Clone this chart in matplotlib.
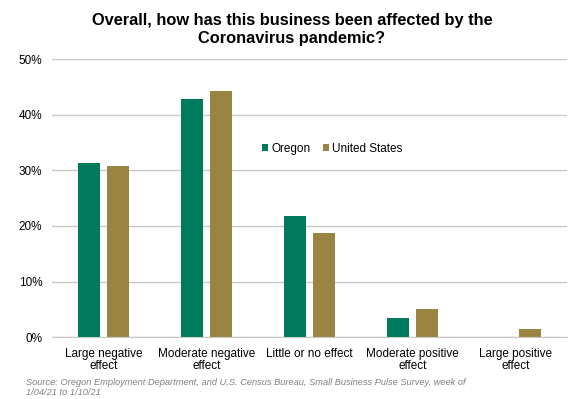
import matplotlib.pyplot as plt
import numpy as np

plt.rcParams['font.family'] = ['Liberation Sans', 'DejaVu Sans']

# 데이터
categories = ["Large negative\neffect", "Moderate negative\neffect", "Little or no effect",
              "Moderate positive\neffect", "Large positive\neffect"]
oregon = [31.3, 42.8, 21.8, 3.4, 0.0]
us = [30.7, 44.3, 18.7, 5.0, 1.4]

green = "#007A5C"
gold = "#9A8442"

fig = plt.figure(figsize=(5.84, 3.99), dpi=100)
ax = fig.add_axes([0.089, 0.155, 0.882, 0.697])

x = np.arange(len(categories))
w = 0.22
ax.bar(x - 0.14, oregon, w, color=green, label="Oregon")
ax.bar(x + 0.14, us, w, color=gold, label="United States")

ax.set_xlim(-0.5, len(categories) - 0.5)
ax.set_ylim(0, 50)
ax.set_yticks(range(0, 51, 10))
ax.set_yticklabels([f"{v}%" for v in range(0, 51, 10)], fontsize=8.5)
ax.set_xticks(x)
ax.set_xticklabels(categories, fontsize=8.5, linespacing=1.0)
ax.tick_params(length=0, pad=8)
ax.tick_params(axis='y', pad=7)

ax.grid(axis='y', color='#C8C8C8', linewidth=1)
ax.set_axisbelow(True)
for s in ['top', 'right', 'left']:
    ax.spines[s].set_visible(False)
ax.spines['bottom'].set_color('#C8C8C8')

ax.legend(loc='upper left', bbox_to_anchor=(0.388, 0.737), ncol=2, frameon=False,
          fontsize=8.5, handlelength=0.5, handleheight=0.5, handletextpad=0.25,
          columnspacing=1.1)

fig.text(0.5, 0.968, "Overall, how has this business been affected by the\nCoronavirus pandemic?",
         ha='center', va='top', fontsize=11.8, fontweight='bold', linespacing=1.3)

# 출처 (두 줄 모두 보이도록 약간 위로)
fig.text(0.045, 0.006, "Source: Oregon Employment Department, and U.S. Census Bureau, Small Business Pulse Survey, week of\n1/04/21 to 1/10/21",
         ha='left', va='bottom', fontsize=6.7, style='italic', color='#808080', linespacing=1.15)

plt.savefig("out.png", dpi=100)
